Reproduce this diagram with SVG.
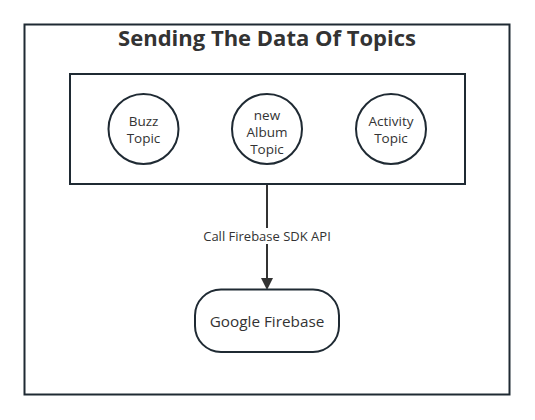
<svg xmlns="http://www.w3.org/2000/svg" width="535" height="420" viewBox="0 0 535 420">
  <defs>
    <style>
      .box { fill: #ffffff; stroke: #1f2a33; stroke-width: 2; }
      .title { font-family: "Open Sans", "Noto Sans", sans-serif; font-size: 22px; font-weight: bold; fill: #333333; text-anchor: middle; }
      .lbl { font-family: "Open Sans", "Noto Sans", sans-serif; font-size: 13.5px; fill: #333333; text-anchor: middle; }
      .edge { font-family: "Open Sans", "Noto Sans", sans-serif; font-size: 13px; fill: #333333; text-anchor: middle; }
      .big { font-family: "Open Sans", "Noto Sans", sans-serif; font-size: 15.3px; fill: #333333; text-anchor: middle; }
      .conn { stroke: #333333; stroke-width: 2; fill: none; }
    </style>
    <marker id="arrow" markerWidth="12" markerHeight="14" refX="10" refY="6" orient="auto" markerUnits="userSpaceOnUse" viewBox="0 0 12 12">
      <path d="M0,0 L12,6 L0,12 Z" fill="#333333"/>
    </marker>
  </defs>
  <rect width="535" height="420" fill="#ffffff"/>
  <g id="frame">
    <rect class="box" x="24.5" y="24.5" width="485" height="370"/>
    <text class="title" x="267" y="46">Sending The Data Of Topics</text>
  </g>
  <g id="topics">
    <rect class="box" x="70" y="74" width="395" height="110"/>
  </g>
  <g id="buzz">
    <circle class="box" cx="143.5" cy="129" r="35"/>
    <text class="lbl" x="143.5" y="125.5">Buzz</text>
    <text class="lbl" x="143.5" y="142.5">Topic</text>
  </g>
  <g id="album">
    <circle class="box" cx="267" cy="129" r="35"/>
    <text class="lbl" x="267" y="119.5">new</text>
    <text class="lbl" x="267" y="136.5">Album</text>
    <text class="lbl" x="267" y="153.5">Topic</text>
  </g>
  <g id="activity">
    <circle class="box" cx="391" cy="129" r="35"/>
    <text class="lbl" x="391" y="125.5">Activity</text>
    <text class="lbl" x="391" y="142.5">Topic</text>
  </g>
  <g id="connectors">
    <line class="conn" x1="267" y1="185" x2="267" y2="288" marker-end="url(#arrow)"/>
    <rect x="198" y="228" width="138" height="16" fill="#ffffff"/>
    <text class="edge" x="267" y="241">Call Firebase SDK API</text>
  </g>
  <g id="firebase">
    <rect class="box" x="195" y="289.5" width="144" height="62.5" rx="26" ry="26"/>
    <text class="big" x="267" y="326.5">Google Firebase</text>
  </g>
</svg>
